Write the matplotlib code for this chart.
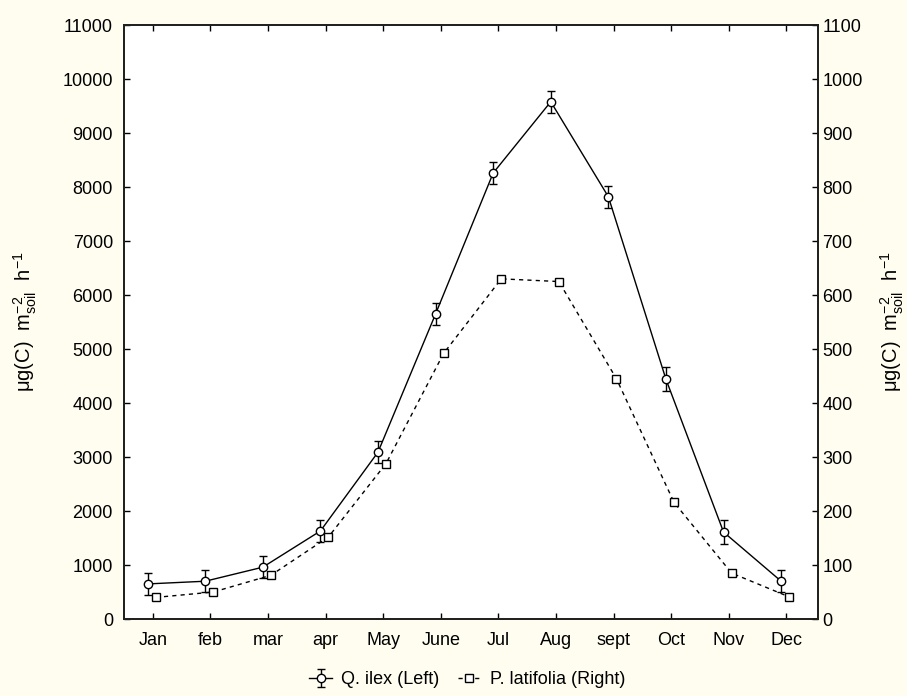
import matplotlib
matplotlib.use("Agg")
import matplotlib.pyplot as plt
import numpy as np

plt.rcParams['font.family'] = ['Liberation Sans', 'DejaVu Sans']
plt.rcParams['mathtext.fontset'] = 'custom'
plt.rcParams['mathtext.rm'] = 'Liberation Sans'
plt.rcParams['mathtext.it'] = 'Liberation Sans'

months = ['Jan', 'feb', 'mar', 'apr', 'May', 'June', 'Jul', 'Aug', 'sept', 'Oct', 'Nov', 'Dec']

# Q. ilex, left axis, with error bars
ilex = [650, 700, 960, 1630, 3090, 5650, 8260, 9580, 7820, 4440, 1610, 700]
ilex_err = [200, 200, 200, 200, 200, 200, 200, 200, 200, 220, 220, 200]

# P. latifolia, right axis
latifolia = [40, 50, 81, 152, 288, 492, 630, 625, 445, 216, 85, 41]

BG = '#fffcf0'
FS = 13

fig = plt.figure(figsize=(9.07, 6.96), dpi=100, facecolor=BG)
ax = fig.add_axes([0.1367, 0.1106, 0.7652, 0.8534])
ax.set_facecolor('white')

x = np.arange(len(months))

# Statistica shifts the two series slightly apart
ax.errorbar(x - 0.09, ilex, yerr=ilex_err, color='black', lw=1, marker='o',
            ms=6, mfc='white', mec='black', mew=1, capsize=3, elinewidth=1,
            label='Q. ilex (Left)')
ax.set_ylim(0, 11000)
ax.set_yticks(np.arange(0, 11001, 1000))
ax.set_xlim(-0.5, 11.55)
ax.set_xticks(x)
ax.set_xticklabels(months)

ax2 = ax.twinx()
ax2.plot(x + 0.05, latifolia, color='black', lw=1, ls=(0, (3, 3)), marker='s',
         ms=6, mfc='white', mec='black', mew=1, label='P. latifolia (Right)')
ax2.set_ylim(0, 1100)
ax2.set_yticks(np.arange(0, 1101, 100))

for a in (ax, ax2):
    a.tick_params(direction='in', length=4, width=1, labelsize=FS, colors='black')
    for s in a.spines.values():
        s.set_linewidth(1.3)
        s.set_color('#202020')
ax.tick_params(axis='x', top=True, pad=9)
ax.tick_params(axis='y', pad=8)
ax2.tick_params(axis='y', pad=3)

ylab = r'$\mathregular{\mu g(C)\ \ m^{-2}_{soil}\ \ h^{-1}}$'
ax.set_ylabel(ylab, fontsize=14.5)
ax.yaxis.set_label_coords(-0.122, 0.5)
ax2.set_ylabel(ylab, fontsize=14.5)
ax2.yaxis.set_label_coords(1.088, 0.5)

h1, l1 = ax.get_legend_handles_labels()
h2, l2 = ax2.get_legend_handles_labels()
fig.legend(h1 + h2, l1 + l2, loc='center', bbox_to_anchor=(0.515, 0.023), ncol=2,
           frameon=False, fontsize=FS, handlelength=1.3, columnspacing=1.0,
           handletextpad=0.5)

fig.savefig('out.png', dpi=100, facecolor=BG)
